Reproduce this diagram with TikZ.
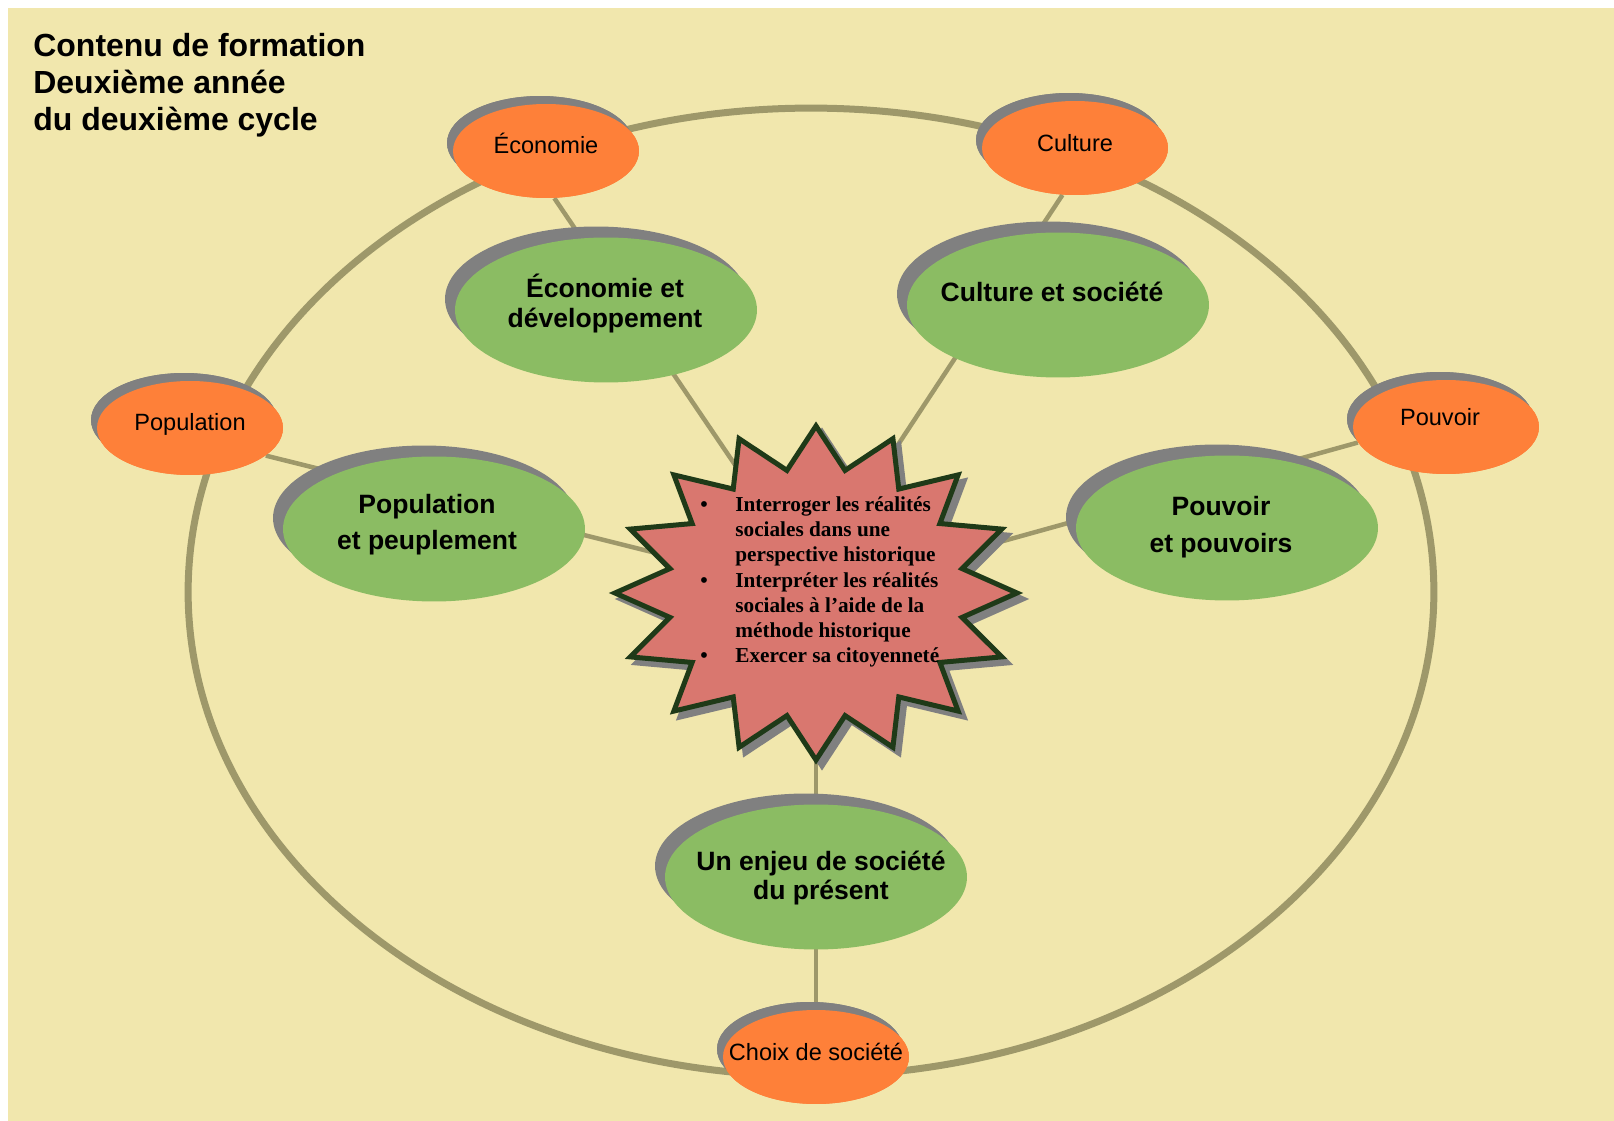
\documentclass[tikz,border=0pt]{standalone}
\usepackage{fontspec}
\setmainfont{Liberation Sans}
\newfontfamily\starserif{Liberation Serif}
\usetikzlibrary{shapes.geometric,shadows}

\definecolor{pagebg}{HTML}{F1E7AD}
\definecolor{ringcol}{HTML}{9E986A}
\definecolor{themeorange}{HTML}{FE8039}
\definecolor{themegreen}{HTML}{8BBC63}
\definecolor{shadowgrey}{HTML}{808080}
\definecolor{starred}{HTML}{D9776F}
\definecolor{staredge}{HTML}{1F3A18}

\begin{document}
\begin{tikzpicture}[x=0.02cm, y=-0.02cm,
  ring/.style={draw=ringcol, line width=0.14cm},
  link/.style={draw=ringcol, line width=0.09cm},
  aspectell/.style={ellipse, fill=themeorange, inner sep=0,
    minimum width=3.72cm, minimum height=1.88cm,
    general shadow={fill=shadowgrey, shadow xshift=-0.12cm, shadow yshift=0.16cm}},
  themeell/.style={ellipse, fill=themegreen, inner sep=0,
    minimum width=6.04cm, minimum height=2.9cm,
    general shadow={fill=shadowgrey, shadow xshift=-0.2cm, shadow yshift=0.22cm}},
  titletext/.style={anchor=base west, inner sep=0, font=\fontsize{18.2}{21}\selectfont\bfseries},
  aspecttext/.style={anchor=base, inner sep=0, font=\fontsize{13.4}{16}\selectfont},
  themetext/.style={anchor=base, inner sep=0, font=\fontsize{15.1}{18}\selectfont\bfseries},
  startext/.style={anchor=base west, inner sep=0, font=\starserif\fontsize{12.1}{14}\selectfont\bfseries},
  starbullet/.style={anchor=base, inner sep=0, font=\starserif\fontsize{12.1}{14}\selectfont\bfseries},
  starpath/.style={line width=0.1cm, line join=miter},
]
% page
\useasboundingbox (0,0) rectangle (1614,1121);
\fill[pagebg] (8,8) rectangle (1614,1121);

% outer ring joining the five aspects
\draw[ring] (811,592) ellipse [x radius=12.46cm, y radius=9.68cm];

% hub points inside the star
\coordinate (star) at (816,593);
\coordinate (hub) at (811,577);

% aspect nodes (orange), placed first so links can use them
\path
  node[aspectell] (econ)  at (546,151) {}
  node[aspectell] (cult)  at (1075,148) {}
  node[aspectell] (pop)   at (190,428) {}
  node[aspectell] (pouv)  at (1446,427) {}
  node[aspectell] (choix) at (816,1057) {};

% links from each aspect to the central star
\draw[link] (econ.-80) -- (hub);
\draw[link] (cult.-105) -- (hub);
\draw[link] (pop.-20) -- (star);
\draw[link] (pouv.190) -- (star);
\draw[link] (choix.center) -- (star);

% themes
\node[themeell] (econg)  at (606,310) {};
\node[themeell] (cultg)  at (1058,305) {};
\node[themeell] (popg)   at (434,529) {};
\node[themeell] (pouvg)  at (1227,528) {};
\node[themeell] (enjeu)  at (816,877) {};

% aspects redrawn above the ring and links
\node[aspectell] (econ2)  at (546,151) {};
\node[aspectell] (cult2)  at (1075,148) {};
\node[aspectell] (pop2)   at (190,428) {};
\node[aspectell] (pouv2)  at (1446,427) {};
\node[aspectell] (choix2) at (816,1057) {};

% central sixteen-point star with its shadow
\filldraw[starpath, fill=shadowgrey, draw=shadowgrey] plot[variable=\k, samples at={0,...,31}]
  ({822+(201-52*mod(\k,2))*cos(90+11.25*\k)}, {599-(167-42*mod(\k,2))*sin(90+11.25*\k)}) -- cycle;
\draw[starpath, fill=starred, draw=staredge] plot[variable=\k, samples at={0,...,31}]
  ({816+(201-52*mod(\k,2))*cos(90+11.25*\k)}, {593-(167-42*mod(\k,2))*sin(90+11.25*\k)}) -- cycle;

% title
\node[titletext] (title1) at (33,57)  {Contenu de formation};
\node[titletext] (title2) at (33,94)  {Deuxième année};
\node[titletext] (title3) at (33,131) {du deuxième cycle};

% aspect labels
\node[aspecttext] (econ-t)  at (546,154)  {Économie};
\node[aspecttext] (cult-t)  at (1075,152) {Culture};
\node[aspecttext] (pop-t)   at (190,431)  {Population};
\node[aspecttext] (pouv-t)  at (1440,426) {Pouvoir};
\node[aspecttext] (choix-t) at (816,1060) {Choix de société};

% theme labels
\node[themetext] (econg-t1)  at (605,298)  {Économie et};
\node[themetext] (econg-t2)  at (605,328)  {développement};
\node[themetext] (cultg-t)   at (1052,302) {Culture et société};
\node[themetext] (popg-t1)   at (427,514)  {Population};
\node[themetext] (popg-t2)   at (427,550)  {et peuplement};
\node[themetext] (pouvg-t1)  at (1221,516) {Pouvoir};
\node[themetext] (pouvg-t2)  at (1221,553) {et pouvoirs};
\node[themetext] (enjeu-t1)  at (821,870)  {Un enjeu de société};
\node[themetext] (enjeu-t2)  at (821,900)  {du présent};

% competencies listed in the star
\node[starbullet] (b1) at (704,512) {•};
\node[starbullet] (b2) at (704,588) {•};
\node[starbullet] (b3) at (704,663) {•};
\node[startext] (c1a) at (735,512) {Interroger les réalités};
\node[startext] (c1b) at (735,537) {sociales dans une};
\node[startext] (c1c) at (735,562) {perspective historique};
\node[startext] (c2a) at (735,588) {Interpréter les réalités};
\node[startext] (c2b) at (735,613) {sociales à l’aide de la};
\node[startext] (c2c) at (735,638) {méthode historique};
\node[startext] (c3a) at (735,663) {Exercer sa citoyenneté};
\end{tikzpicture}
\end{document}
